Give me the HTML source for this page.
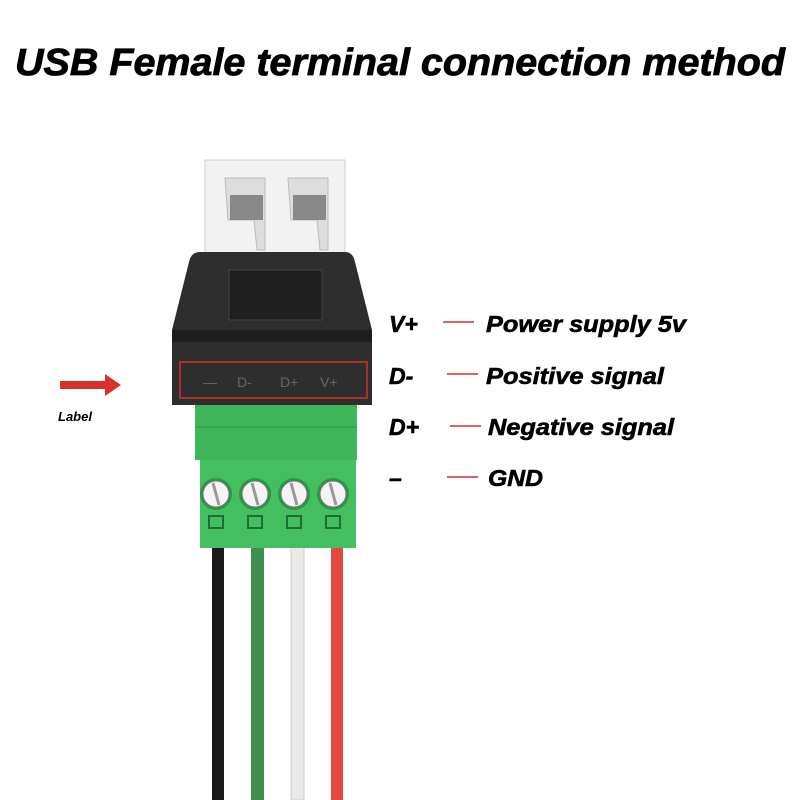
<!DOCTYPE html><html><head><style>body{margin:0;background:#fff}svg{display:block}text{font-family:"Liberation Sans",sans-serif;font-weight:bold;font-style:italic}</style></head><body>
<svg width="800" height="800" viewBox="0 0 800 800">
<text x="15" y="75" font-size="38" textLength="770" lengthAdjust="spacingAndGlyphs" stroke="#000" stroke-width="0.8">USB Female terminal connection method</text>
<!-- wires -->
<rect x="212" y="545" width="12" height="255" fill="#1a1a1a"/>
<rect x="251" y="545" width="13" height="255" fill="#3f8f4f"/>
<rect x="291" y="545" width="13" height="255" fill="#e8e8e8" stroke="#ccc"/>
<rect x="331" y="545" width="12" height="255" fill="#e24a3f"/>
<!-- usb metal -->
<rect x="205" y="160" width="140" height="100" fill="#f2f2f2" stroke="#ccc"/>
<path d="M225 178h40v72h-8l-3-30h-26z" fill="#ddd" stroke="#bbb"/>
<rect x="230" y="195" width="33" height="25" fill="#888"/>
<path d="M288 178h40v72h-8l-3-30h-26z" fill="#ddd" stroke="#bbb"/>
<rect x="293" y="195" width="33" height="25" fill="#888"/>
<!-- black body -->
<path d="M200 252h145q8 0 10 10l17 68v75h-200v-75l17-68q2-10 11-10z" fill="#2e2e2e"/>
<rect x="172" y="330" width="200" height="12" fill="#1e1e1e"/>
<rect x="229" y="270" width="93" height="50" fill="#1f1f1f" stroke="#444"/>
<rect x="180" y="362" width="187" height="36" fill="none" stroke="#d0302a" stroke-width="1.5"/>
<g fill="#666" font-size="14">
<text x="203" y="387" style="font-style:normal;font-weight:normal">—</text>
<text x="237" y="387" style="font-style:normal;font-weight:normal">D-</text>
<text x="280" y="387" style="font-style:normal;font-weight:normal">D+</text>
<text x="320" y="387" style="font-style:normal;font-weight:normal">V+</text></g>
<!-- green -->
<rect x="195" y="405" width="162" height="55" fill="#3fb55a"/>
<line x1="195" y1="427" x2="357" y2="427" stroke="#2e9446"/>
<rect x="200" y="460" width="156" height="88" fill="#44bf5f"/>
<g fill="#2e9446"><circle cx="216" cy="494" r="16"/><circle cx="255" cy="494" r="16"/><circle cx="294" cy="494" r="16"/><circle cx="333" cy="494" r="16"/></g>
<g fill="#f4f4f4" stroke="#777"><circle cx="216" cy="494" r="13"/><circle cx="255" cy="494" r="13"/><circle cx="294" cy="494" r="13"/><circle cx="333" cy="494" r="13"/></g>
<g stroke="#999" stroke-width="3"><line x1="213" y1="483" x2="219" y2="505"/><line x1="252" y1="483" x2="258" y2="505"/><line x1="291" y1="483" x2="297" y2="505"/><line x1="330" y1="483" x2="336" y2="505"/></g>
<g fill="none" stroke="#1e6e33" stroke-width="2"><rect x="209" y="516" width="14" height="12"/><rect x="248" y="516" width="14" height="12"/><rect x="287" y="516" width="14" height="12"/><rect x="326" y="516" width="14" height="12"/></g>
<!-- arrow -->
<path d="M60 381h45v-7l16 11-16 11v-7h-45z" fill="#d8312a"/>
<text x="58" y="421" font-size="13">Label</text>
<!-- labels -->
<g font-size="23" stroke="#000" stroke-width="0.6" lengthAdjust="spacingAndGlyphs">
<text x="389" y="332">V+</text><text x="486" y="332" textLength="200" lengthAdjust="spacingAndGlyphs">Power supply 5v</text>
<text x="389" y="384">D-</text><text x="486" y="384" textLength="178" lengthAdjust="spacingAndGlyphs">Positive signal</text>
<text x="389" y="435">D+</text><text x="488" y="435" textLength="186" lengthAdjust="spacingAndGlyphs">Negative signal</text>
<text x="389" y="486">–</text><text x="488" y="486" textLength="55" lengthAdjust="spacingAndGlyphs">GND</text></g>
<g stroke="#d0302a" stroke-width="1.5">
<line x1="443" y1="322" x2="474" y2="322"/><line x1="447" y1="374" x2="478" y2="374"/>
<line x1="450" y1="426" x2="481" y2="426"/><line x1="447" y1="477" x2="478" y2="477"/></g>
</svg></body></html>
